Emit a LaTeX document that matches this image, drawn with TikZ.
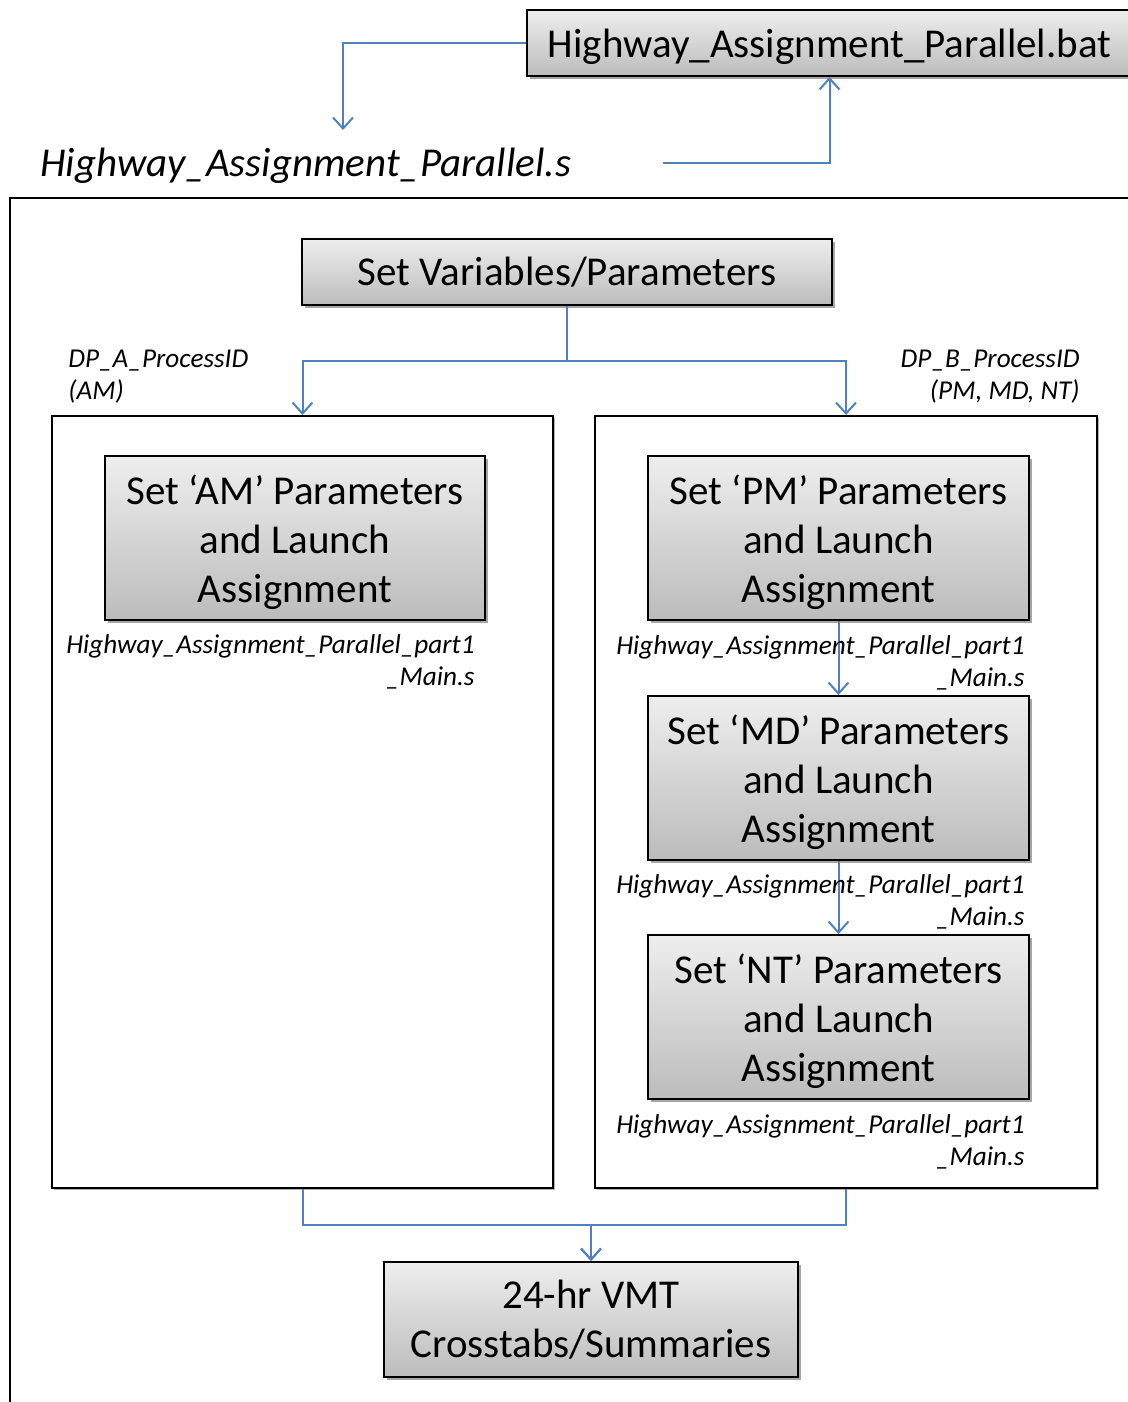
\documentclass[tikz,border=0pt]{standalone}
\usepackage{fontspec}
\setmainfont{Carlito}
\usetikzlibrary{arrows.meta,shadows}
\definecolor{flow}{RGB}{79,129,189}
\definecolor{boxtop}{RGB}{238,238,238}
\definecolor{boxbot}{RGB}{188,188,188}
% invisible rule that lowers the first text line inside a box
\newcommand\topgap[1]{\rule{0pt}{#1}}
\tikzset{
  gbox/.style={draw=black, line width=1pt, inner sep=0pt, align=center,
    top color=boxtop, bottom color=boxbot,
    drop shadow={shadow xshift=1.5pt, shadow yshift=-1.5pt, opacity=0.35, fill=black},
    font=\fontsize{20.5}{24.5}\selectfont},
  group/.style={draw=black, line width=1pt, fill=white, inner sep=0pt,
    drop shadow={shadow xshift=1pt, shadow yshift=-1pt, opacity=0.3, fill=black}},
  conn/.style={draw=flow, line width=1pt, -{Straight Barb[length=5.5pt,width=10pt,line width=1pt]}},
  plainline/.style={draw=flow, line width=1pt},
  note/.style={inner sep=0pt, font=\fontsize{13.6}{16}\selectfont\itshape},
}
\begin{document}
\begin{tikzpicture}[x=0.5pt,y=-0.5pt]
\useasboundingbox (0,0) rectangle (1128,1402);
\clip (0,0) rectangle (1128,1402);

% outer frame of the script
\draw[line width=1pt] (10,1420) -- (10,198) -- (1150,198);

% batch file and script title
\node[gbox, minimum width=302.5pt, minimum height=33pt] (bat) at (829.5,43) {\topgap{18pt}Highway\_Assignment\_Parallel.bat};
\node[inner sep=0pt, anchor=west, font=\fontsize{20.5}{24}\selectfont\itshape] (title) at (40,166) {Highway\_Assignment\_Parallel.s};
\coordinate (batdown) at (343,130);
\coordinate (ret) at (663,163);
\draw[conn] (bat.west) -| (batdown);
\draw[conn] (ret) -| (bat.south);

% set variables
\node[gbox, minimum width=265pt, minimum height=33pt] (sv) at (567,272) {Set Variables/Parameters};

% two parallel groups
\node[group, minimum width=250.5pt, minimum height=386pt] (lc) at (302.5,802) {};
\node[group, minimum width=251pt, minimum height=386pt] (rc) at (846,802) {};

\draw[plainline] (sv.south) -- ++(0,55) coordinate (split);
\draw[conn] (split) -| (lc.north);
\draw[conn] (split) -| (rc.north);

\node[note, anchor=north west, align=left] (dpa) at (68,350) {DP\_A\_ProcessID\\(AM)};
\node[note, anchor=north east, align=right] (dpb) at (1080,350) {DP\_B\_ProcessID\\(PM, MD, NT)};

% period boxes
\node[gbox, minimum width=190pt, minimum height=82pt] (am) at (295,538) {\topgap{19pt}Set ‘AM’ Parameters\\and Launch\\Assignment};
\node[gbox, minimum width=190.5pt, minimum height=82pt] (pm) at (838.5,538) {\topgap{19pt}Set ‘PM’ Parameters\\and Launch\\Assignment};
\node[gbox, minimum width=190.5pt, minimum height=82pt] (md) at (838.5,778) {\topgap{19pt}Set ‘MD’ Parameters\\and Launch\\Assignment};
\node[gbox, minimum width=190.5pt, minimum height=82pt] (nt) at (838.5,1017) {\topgap{19pt}Set ‘NT’ Parameters\\and Launch\\Assignment};

\draw[conn] (pm.south) -- (md.north);
\draw[conn] (md.south) -- (nt.north);

\node[note, anchor=north east, align=right] (amf) at (475,634) {Highway\_Assignment\_Parallel\_part1\\\_Main.s};
\node[note, anchor=north east, align=right] (pmf) at (1025,635) {Highway\_Assignment\_Parallel\_part1\\\_Main.s};
\node[note, anchor=north east, align=right] (mdf) at (1025,874) {Highway\_Assignment\_Parallel\_part1\\\_Main.s};
\node[note, anchor=north east, align=right] (ntf) at (1025,1114) {Highway\_Assignment\_Parallel\_part1\\\_Main.s};

% summaries
\node[gbox, minimum width=207pt, minimum height=57.5pt] (vmt) at (591,1319.5) {24-hr VMT\\Crosstabs/Summaries};
\draw[conn] (lc.south) -- ++(0,36) -| (vmt.north);
\draw[conn] (rc.south) -- ++(0,36) -| (vmt.north);
\end{tikzpicture}
\end{document}
